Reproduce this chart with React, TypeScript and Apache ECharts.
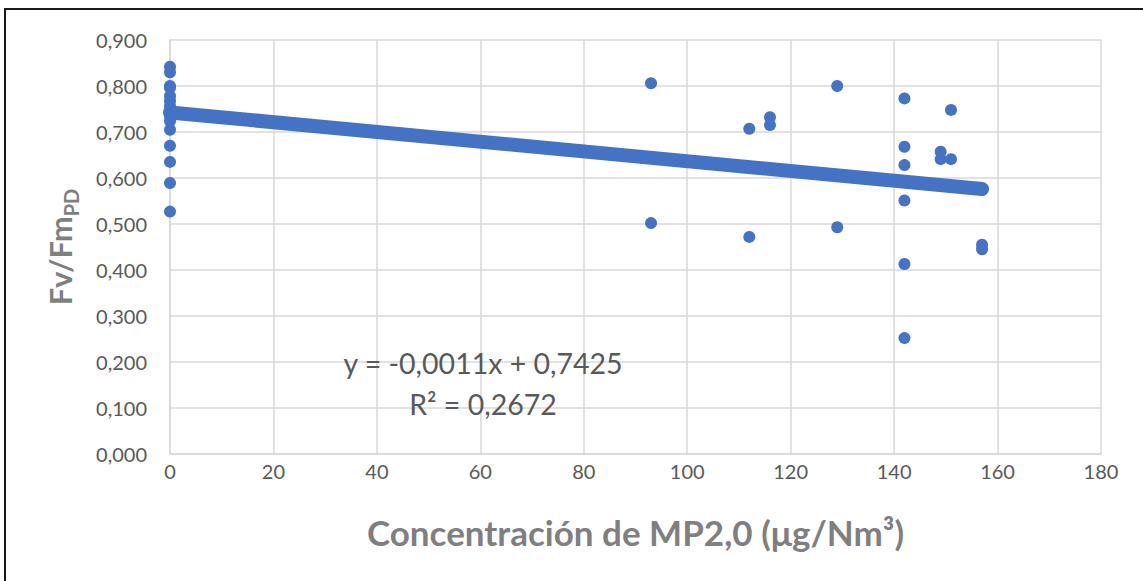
import React, { useEffect, useRef } from "react";
import * as echarts from "echarts";

// Concentración de MP2,0 (µg/Nm³) and Fv/Fm_PD observations
const xValues: number[] = [
  0, 0, 0, 0, 0, 0, 0, 0, 0, 0, 0, 0, 0, 0, 0,
  93, 93,
  112, 112,
  116, 116,
  129, 129,
  142, 142, 142, 142, 142, 142,
  149, 149,
  151, 151,
  157, 157,
];
const yValues: number[] = [
  0.842, 0.830, 0.800, 0.796, 0.778, 0.768, 0.757, 0.746, 0.735, 0.724, 0.705, 0.670, 0.635, 0.589, 0.527,
  0.806, 0.502,
  0.707, 0.472,
  0.732, 0.715,
  0.800, 0.493,
  0.773, 0.668, 0.628, 0.551, 0.413, 0.252,
  0.657, 0.641,
  0.748, 0.641,
  0.455, 0.445,
];

// Linear trend (Excel trendline)
const trendIntercept = 0.7425;
const trendSlope = -0.00106;
const equationLabel = "y = -0,0011x + 0,7425";
const r2Label = "R² = 0,2672";

const xTitle = "Concentración de MP2,0 (μg/Nm³)";

const FONT = "Lato, 'Open Sans', sans-serif";

export default function App() {
  const ref = useRef<HTMLDivElement>(null);

  useEffect(() => {
    if (!ref.current) return;
    const chart = echarts.init(ref.current, undefined, { renderer: "svg" });
    const points = xValues.map((x, i) => [x, yValues[i]]);
    const xMax = Math.max(...xValues);
    const trend = [
      [0, trendIntercept],
      [xMax, trendIntercept + trendSlope * xMax],
    ];

    chart.setOption({
      animation: false,
      backgroundColor: "#ffffff",
      textStyle: { fontFamily: FONT },
      grid: { left: 170, right: 42, top: 40, bottom: 127, containLabel: false },
      xAxis: {
        type: "value",
        min: 0,
        max: 180,
        interval: 20,
        name: xTitle,
        nameLocation: "middle",
        nameGap: 60,
        nameTextStyle: { fontFamily: FONT, fontSize: 35, fontWeight: "bold", color: "#7f7f7f" },
        axisLine: { show: true, lineStyle: { color: "#d9d9d9", width: 1.5 } },
        axisTick: { show: false },
        axisLabel: { fontFamily: FONT, fontSize: 20, color: "#595959", margin: 7 },
        splitLine: { show: true, lineStyle: { color: "#d9d9d9", width: 1.5 } },
      },
      yAxis: {
        type: "value",
        min: 0,
        max: 0.9,
        interval: 0.1,
        name: "{a|Fv/Fm}{b|PD}",
        nameLocation: "middle",
        nameGap: 93,
        nameRotate: 90,
        nameTextStyle: {
          fontFamily: FONT,
          color: "#7f7f7f",
          rich: {
            a: { fontFamily: FONT, fontSize: 31, fontWeight: "bold", color: "#7f7f7f", lineHeight: 33, verticalAlign: "top" },
            b: { fontFamily: FONT, fontSize: 20, fontWeight: "bold", color: "#7f7f7f", lineHeight: 22, verticalAlign: "top", padding: [17, 0, 0, 0] },
          },
        },
        axisLine: { show: true, lineStyle: { color: "#d9d9d9", width: 1.5 } },
        axisTick: { show: false },
        axisLabel: {
          fontFamily: FONT,
          fontSize: 20,
          color: "#595959",
          margin: 23,
          formatter: (v: number) => v.toFixed(3).replace(".", ","),
        },
        splitLine: { show: true, lineStyle: { color: "#d9d9d9", width: 1.5 } },
      },
      graphic: [
        {
          type: "rect",
          shape: { x: 5, y: 9, width: 1400, height: 800 },
          style: { fill: "none", stroke: "#1a1a1a", lineWidth: 2 },
          silent: true,
        },
        {
          type: "text",
          x: 483,
          y: 363,
          style: {
            text: equationLabel,
            fontFamily: FONT,
            fontSize: 28.5,
            fill: "#595959",
            align: "center",
            verticalAlign: "middle",
          },
          z: 100,
        },
        {
          type: "text",
          x: 483,
          y: 404,
          style: {
            text: r2Label,
            fontFamily: FONT,
            fontSize: 28.5,
            fill: "#595959",
            align: "center",
            verticalAlign: "middle",
          },
          z: 100,
        },
      ],
      series: [
        {
          type: "line",
          data: trend,
          symbol: "none",
          lineStyle: { color: "#4472C4", width: 14, cap: "round" },
          z: 2,
        },
        {
          type: "scatter",
          data: points,
          symbol: "circle",
          symbolSize: 12,
          itemStyle: { color: "#4472C4", opacity: 1 },
          z: 3,
        },
      ],
    });

    return () => chart.dispose();
  }, []);

  return (
    <div
      ref={ref}
      style={{ position: "fixed", left: 0, top: 0, width: 1143, height: 581, background: "#fff" }}
    />
  );
}
